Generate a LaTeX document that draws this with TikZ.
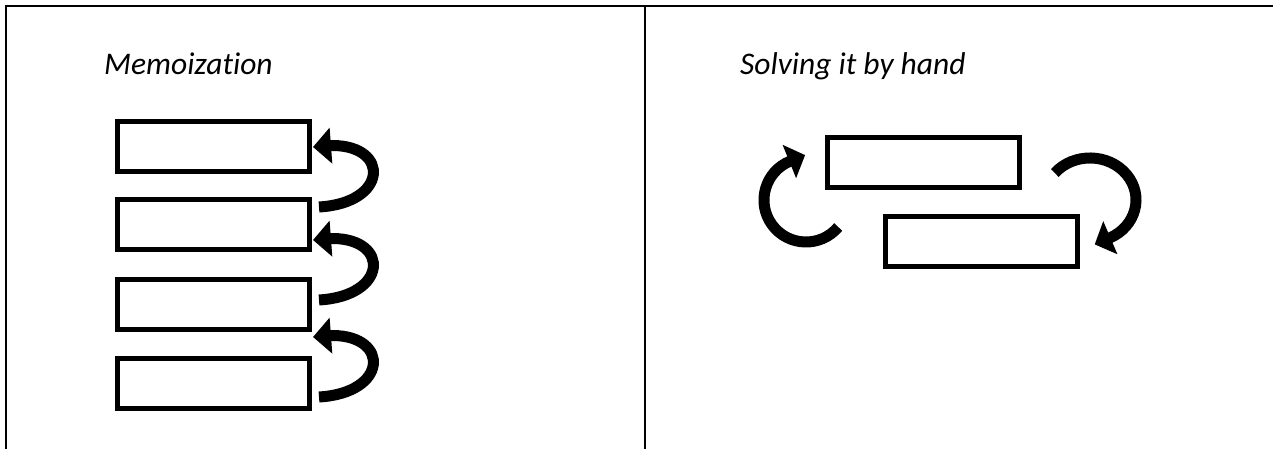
\documentclass[tikz,border=0pt]{standalone}
\usepackage{fontspec}
\newfontfamily\carlito[Ligatures=NoCommon]{Carlito}
\usetikzlibrary{arrows.meta,calc}
\tikzset{
  box/.style={draw, line width=5bp, minimum width=192bp, minimum height=50bp, inner sep=0pt},
  bigarrow/.style={line width=11bp, -{Triangle[length=18bp,width=35bp]}},
  bigarrowr/.style={line width=11bp, -{Triangle[length=17bp,width=35bp]}},
  title/.style={font=\carlito\itshape\fontsize{31.5bp}{37bp}\selectfont, anchor=base west, inner sep=0pt},
  frame/.style={line width=2.2bp}
}
\begin{document}
\begin{tikzpicture}[x=1bp,y=-1bp]
\useasboundingbox (0,0) rectangle (1273,449);
% frame
\coordinate (ftl) at (5.7,5.7);
\coordinate (ftr) at (1273,5.7);
\coordinate (fbl) at (5.7,449);
\coordinate (dtop) at (644.7,5.7);
\coordinate (dbot) at (644.7,449);
\draw[frame] (ftr) -- (ftl) -- (fbl);
\draw[frame] (dtop) -- (dbot);
% titles
\node[title] (t1) at (104,75) {Memoization};
\node[title] (t2) at (740,75) {Solving it by hand};
% left boxes
\node[box] (b1) at (213.5,146.5) {};
\node[box] (b2) at (213.5,225) {};
\node[box] (b3) at (213.5,305) {};
\node[box] (b4) at (213.5,384) {};
% left arrows
\coordinate (ta1) at ($(b2.east)+(7,-18)$);
\coordinate (ha1) at ($(b1.east)+(1,0.5)$);
\draw[bigarrow] (ta1) .. controls ($(ta1)+(69,-4)$) and ($(ta1)+(71,-61)$) .. ($(ta1)+(14,-61.5)$) -- (ha1);
\coordinate (ta2) at ($(b3.east)+(7,-5)$);
\coordinate (ha2) at ($(b2.east)+(1,15)$);
\draw[bigarrow] (ta2) .. controls ($(ta2)+(69,-4)$) and ($(ta2)+(71,-61)$) .. ($(ta2)+(14,-61.5)$) -- (ha2);
\coordinate (ta3) at ($(b4.east)+(7,13)$);
\coordinate (ha3) at ($(b3.east)+(1,32)$);
\draw[bigarrow] (ta3) .. controls ($(ta3)+(69,-4)$) and ($(ta3)+(71,-61)$) .. ($(ta3)+(14,-61.5)$) -- (ha3);
% right boxes
\node[box] (A) at (923.5,163) {};
\node[box] (B) at (981.5,241.5) {};
% right arrows
\coordinate (tra) at ($(B.west)+(-44.8,-14.5)$);
\coordinate (hra) at ($(A.west)+(-19.9,-7.9)$);
\draw[bigarrowr] (tra) .. controls (820.6,247.9) and (788.1,246.8) .. (772.0,224.7)
  .. controls (755.9,202.6) and (765.0,171.3) .. (790.3,161.1) -- (hra);
\coordinate (trb) at ($(A.east)+(32.8,10)$);
\coordinate (hrb) at ($(B.east)+(14.7,2.9)$);
\draw[bigarrowr] (trb) .. controls (1073.7,152.4) and (1108.6,153.1) .. (1126.5,174.4)
  .. controls (1144.4,195.7) and (1136.1,226.7) .. (1109.4,238.1) -- (hrb);
\end{tikzpicture}
\end{document}
